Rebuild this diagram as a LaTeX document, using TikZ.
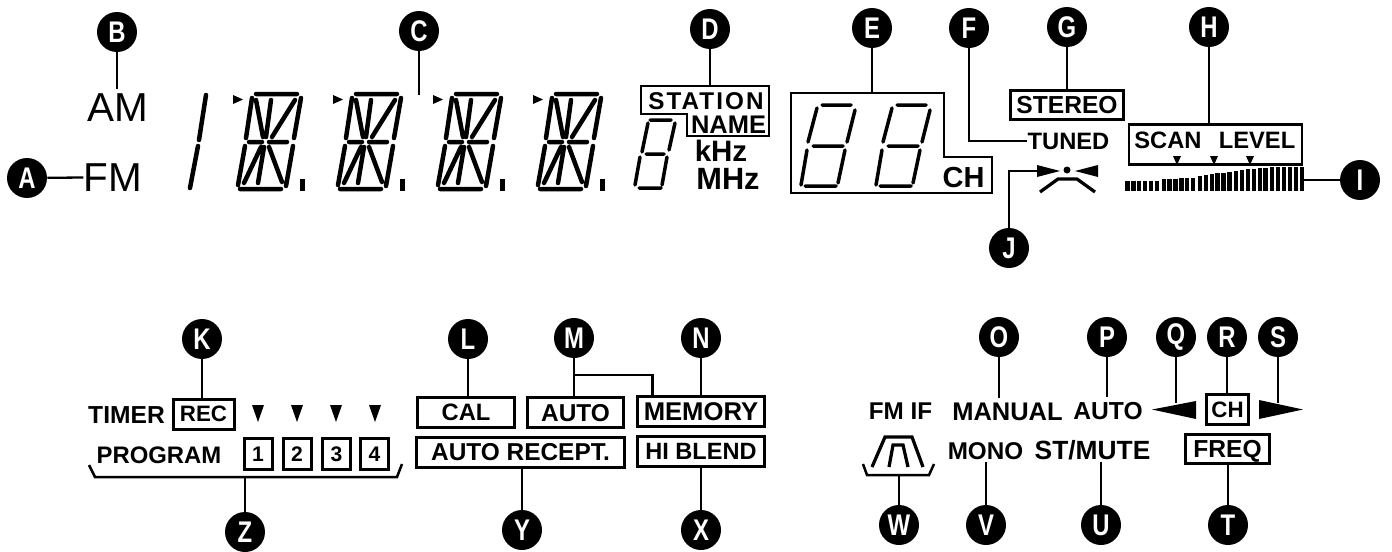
\documentclass[tikz,border=0pt]{standalone}
\usepackage{fontspec}
\setmainfont{Liberation Sans}
\newfontfamily\markfont[FakeStretch=0.8]{Liberation Sans}
\usetikzlibrary{arrows.meta, positioning}

\begin{document}
\begin{tikzpicture}[
  x=0.02cm, y=-0.02cm,
  mk/.style={circle, fill=black, text=white, minimum size=0.8cm, inner sep=0pt,
             font=\markfont\bfseries\fontsize{17}{17}\selectfont},
  ld/.style={draw=black, line width=0.046cm},
  txt/.style={font=\bfseries\fontsize{#1}{#1}\selectfont, inner sep=0pt,
              text height=#1*0.716pt, text depth=0pt},
  thin txt/.style={font=\fontsize{#1}{#1}\selectfont, inner sep=0pt,
              text height=#1*0.716pt, text depth=0pt},
  bx/.style n args={3}{draw=black, line width=0.06cm, inner sep=0pt,
              minimum width=#1*0.02cm, minimum height=#2*0.02cm,
              font=\bfseries\fontsize{#3}{#3}\selectfont,
              text height=#3*0.716pt, text depth=0pt},
  seg/.style={draw=black, line width=0.09cm, line cap=round},
  lcd/.style={draw=black, line width=0.07cm, line cap=round},
  frame/.style={draw=black, line width=0.05cm, line join=miter},
  bar/.style={draw=black, line width=0.085cm}]
  \useasboundingbox (0,0) rectangle (1392,551);

  % top row labels
  \node[thin txt=23] (am) at (117.5,107.5) {AM};
  \node[thin txt=23] (fm) at (113,177.5) {FM};

  % frequency digits
  \draw[seg] (206,95) -- (199,140) (198,146) -- (190,188);
  \foreach \dx in {0,100,200,300} {
    \begin{scope}[shift={(\dx,0)}]
      \draw[seg] (256,94) -- (297,94) (240,189) -- (281,189)
        (252,98) -- (246,138) (256,100) -- (263,137) (271,100) -- (266,137)
        (295,100) -- (272,137) (301,98) -- (294,138)
        (249,142) -- (262,142) (269,142) -- (287,142)
        (245,146) -- (238,185) (261,147) -- (244,183) (264,147) -- (258,183)
        (269,147) -- (282,182) (293,146) -- (286,186);
      \fill (233,95) -- (243,99.5) -- (233,104) -- cycle;
      \fill (299.5,179) rectangle (304.5,191);
    \end{scope}
  }
  \draw[lcd] (650,120) -- (671,120) (648,123) -- (642,152) (675,123) -- (669,150)
    (646,154) -- (664,154) (640,157) -- (635,185) (667,157) -- (662,185)
    (639,188) -- (661,188);

  % station name
  \draw[frame] (641,86) -- (769,86) -- (769,136) -- (687,136) -- (687,114)
    -- (641,114) -- cycle;
  \coordinate (stn) at (710,86);
  \node[txt=13.8] (station) at (706,100.5) {\addfontfeature{LetterSpace=8.5}STATION};
  \node[txt=14.5] (name) at (728.5,124) {NAME};
  \node[txt=16.8, text height=12.5pt] (khz) at (721,150.5) {kHz};
  \node[txt=17.5] (mhz) at (728,178.5) {MHz};

  % channel digits
  \draw[frame] (791,93) -- (944,93) -- (944,157) -- (992,157) -- (992,193)
    -- (791,193) -- cycle;
  \coordinate (chn) at (872,93);
  \foreach \dx in {0,75} {
    \begin{scope}[shift={(\dx,0)}]
      \draw[lcd] (822,105) -- (851,105) (817,108) -- (808,142) (855,110) -- (847,142)
        (813,146) -- (843,146) (807,150) -- (801,185) (845,150) -- (838,183)
        (805,186) -- (836,186);
    \end{scope}
  }
  \node[txt=16.5] (chtxt) at (963.5,177.5) {CH};

  % tuned, stereo, level
  \node[txt=13.5] (tuned) at (1068.5,141) {TUNED};
  \node[bx={113}{29}{14}] (stereo) at (1067,105) {STEREO};
  \node[bx={173}{40}{13.5}, text height=0pt, line width=0.05cm] (level) at (1215.5,144.5) {};
  \node[txt=13.5] (scan) at (1168,140.5) {SCAN};
  \node[txt=13.5] (lvltxt) at (1257,140.5) {LEVEL};
  \foreach \tx in {1177,1214,1250}
    \fill (\tx-4,156) -- (\tx+4,156) -- (\tx,165) -- cycle;
  \foreach \g/\ytop/\dy in {0/180.5/0,1/179/0.2,2/175.5/0.7,3/170.5/0.6,4/167/0}
    \foreach \b in {0,...,5} {
      \pgfmathsetmacro\bx{1127.5+36.2*\g+5.9*\b}
      \pgfmathsetmacro\by{\ytop-\dy*\b}
      \draw[bar] (\bx,\by) -- (\bx,191);
    }
  \coordinate (lvlend) at (1303,180);

  % tuning indicator
  \fill (1037,165) -- (1060,171) -- (1037,177) -- cycle;
  \fill (1098,165) -- (1075,171) -- (1098,177) -- cycle;
  \fill (1067,170) circle (3.5);
  \draw[frame, line width=0.065cm] (1040,192) -- (1058,179) -- (1077,179) -- (1095,192);
  \coordinate (tunl) at (1037,171);

  % lower left group
  \node[txt=14] (timer) at (126.5,415) {TIMER};
  \node[bx={61}{30}{12.7}] (rec) at (203.5,414) {REC};
  \foreach \tx in {258,297,336,375}
    \fill (\tx-6,405) -- (\tx+6,405) -- (\tx,422) -- cycle;
  \node[txt=13.6] (prog) at (159,454.5) {PROGRAM};
  \node[bx={28}{31}{12}] (p1) at (258,453.5) {1};
  \node[bx={28}{31}{12}] (p2) at (297,453.5) {2};
  \node[bx={28}{31}{12}] (p3) at (336.5,453.5) {3};
  \node[bx={28}{31}{12}] (p4) at (374.5,453.5) {4};
  \draw[frame] (89,465) -- (95,477) -- (397,477) -- (402,464);
  \coordinate (zbr) at (245,477);

  \node[bx={97}{30}{13.5}] (cal) at (466,412.5) {CAL};
  \node[bx={96}{30}{13.9}] (auto) at (575.5,412.5) {AUTO};
  \node[bx={127}{30}{14.6}] (memory) at (701,411.5) {MEMORY};
  \node[bx={208}{30}{13.9}] (recept) at (520.5,452) {AUTO RECEPT.};
  \node[bx={127}{30}{13.4}] (blend) at (701,451) {HI BLEND};

  % lower right group
  \node[txt=13.8] (fmif) at (900.5,411) {FM IF};
  \node[txt=14.5] (manual) at (1007.5,411) {MANUAL};
  \node[txt=14] (autotxt) at (1108,411) {AUTO};
  \node[txt=13.8] (mono) at (985.5,450.5) {MONO};
  \node[txt=15] (mute) at (1092.5,450.5) {ST/MUTE};
  \fill (1152,409.5) -- (1196,401) -- (1196,419) -- cycle;
  \fill (1303,409.5) -- (1259,400) -- (1259,419) -- cycle;
  \coordinate (larr) at (1176,403);
  \coordinate (rarr) at (1278,403);
  \node[bx={42}{30}{12.7}] (chbx) at (1227.5,409.5) {CH};
  \node[bx={84}{29}{14}] (freq) at (1227.5,449) {FREQ};
  \draw[frame, line width=0.065cm] (872,467) -- (885,437) -- (912,437) -- (923,467)
    (889,467) -- (893,445) -- (903,445) -- (908,467);
  \draw[frame] (863,464) -- (867,475) -- (929,475) -- (934,464);
  \coordinate (wbr) at (899,475);

  % markers
  \node[mk] (a) at (27,178) {A};
  \node[mk] (b) at (117,32) {B};
  \node[mk] (c) at (419,31) {C};
  \node[mk] (d) at (710,29) {D};
  \node[mk] (e) at (872,28) {E};
  \node[mk] (f) at (969,28) {F};
  \node[mk] (g) at (1067,27) {G};
  \node[mk] (h) at (1209,27) {H};
  \node[mk] (i) at (1360,180) {I};
  \node[mk] (j) at (1009,248) {J};
  \node[mk] (k) at (202,339) {K};
  \node[mk] (l) at (468,339) {L};
  \node[mk] (m) at (574,338) {M};
  \node[mk] (n) at (701,338) {N};
  \node[mk] (o) at (999,337) {O};
  \node[mk] (p) at (1107,337) {P};
  \node[mk] (q) at (1176,337) {Q};
  \node[mk] (r) at (1227,337) {R};
  \node[mk] (s) at (1278,337) {S};
  \node[mk] (t) at (1228,525) {T};
  \node[mk] (u) at (1101,525) {U};
  \node[mk] (v) at (986,525) {V};
  \node[mk] (w) at (899,525) {W};
  \node[mk] (xx) at (701,530) {X};
  \node[mk] (yy) at (522,530) {Y};
  \node[mk] (z) at (245,532) {Z};

  % leaders
  \draw[ld] (a) -- (fm.west);
  \draw[ld, shorten >=0.08cm] (b) -- (b |- am.north);
  \draw[ld] (c) -- ++(0,64);
  \draw[ld] (d) -- (stn);
  \draw[ld] (e) -- (chn);
  \draw[ld] (f) |- (tuned.west);
  \draw[ld] (g) -- (stereo);
  \draw[ld] (h) -- (h |- level.north);
  \draw[ld] (i) -- (lvlend);
  \draw[ld] (j) |- (tunl);
  \draw[ld] (k) -- (k |- rec.north);
  \draw[ld] (l) -- (l |- cal.north);
  \draw[ld] (m) -- (m |- auto.north);
  \draw[ld] (n) -- (memory);
  \draw[ld] (574,375) -| (652.5,395);
  \draw[ld, shorten >=0.08cm] (o) -- (o |- manual.north);
  \draw[ld, shorten >=0.1cm] (p) -- (p |- autotxt.north);
  \draw[ld] (q) -- (larr);
  \draw[ld] (r) -- (r |- chbx.north);
  \draw[ld] (s) -- (rarr);
  \draw[ld] (t) -- (t |- freq.south);
  \draw[ld, shorten >=0.04cm] (u) -- (u |- mute.south);
  \draw[ld, shorten >=0.04cm] (v) -- (v |- mono.south);
  \draw[ld] (w) -- (wbr);
  \draw[ld] (xx) -- (blend);
  \draw[ld] (yy) -- (yy |- recept.south);
  \draw[ld] (z) -- (zbr);
\end{tikzpicture}
\end{document}
